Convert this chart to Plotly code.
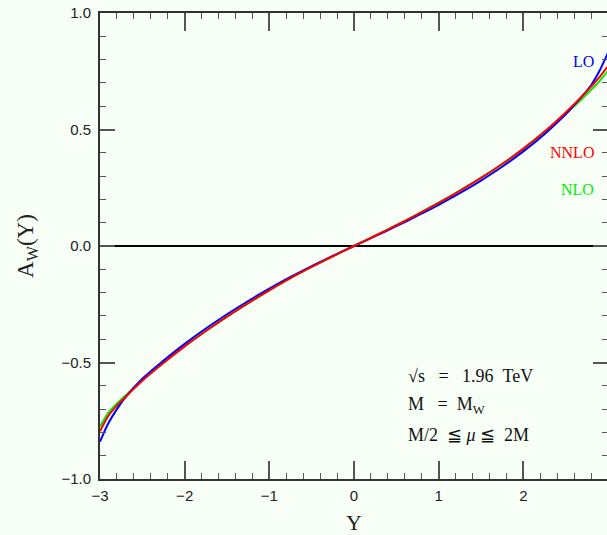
import plotly.graph_objects as go

# Rapidity grid
Y = [-3.0, -2.9, -2.8, -2.7, -2.5, -2.25, -2.0, -1.75, -1.5, -1.25, -1.0, -0.75, -0.5, -0.25, 0.0,
     0.25, 0.5, 0.75, 1.0, 1.25, 1.5, 1.75, 2.0, 2.25, 2.5, 2.7, 2.8, 2.9, 3.0]

A_LO = [-0.840, -0.760, -0.700, -0.650, -0.570, -0.492, -0.420, -0.354, -0.293, -0.236, -0.183, -0.133,
        -0.086, -0.042, 0.0, 0.042, 0.085, 0.130, 0.177, 0.227, 0.281, 0.340, 0.406, 0.480, 0.565,
        0.645, 0.690, 0.752, 0.830]

A_NLO = [-0.775, -0.715, -0.676, -0.642, -0.575, -0.500, -0.430, -0.365, -0.303, -0.245, -0.190, -0.138,
         -0.090, -0.044, 0.0, 0.044, 0.089, 0.137, 0.186, 0.238, 0.293, 0.352, 0.416, 0.487, 0.566,
         0.634, 0.670, 0.708, 0.752]

A_NNLO = [-0.795, -0.728, -0.685, -0.648, -0.578, -0.502, -0.431, -0.365, -0.303, -0.245, -0.190, -0.138,
          -0.090, -0.044, 0.0, 0.044, 0.089, 0.136, 0.185, 0.237, 0.292, 0.352, 0.418, 0.491, 0.573,
          0.645, 0.684, 0.725, 0.772]

x_ticks = [-3, -2, -1, 0, 1, 2]
y_ticks = [-1.0, -0.5, 0.0, 0.5, 1.0]
y_tick_text = ["\u22121.0", "\u22120.5", "0.0", "0.5", "1.0"]
x_tick_text = ["\u22123", "\u22122", "\u22121", "0", "1", "2"]

BG = "#F7FFF7"
SERIF = "Liberation Serif, Times New Roman, serif"
SANS = "Liberation Sans, Arial, sans-serif"
NB = "\u00a0"

fig = go.Figure()
fig.add_trace(go.Scatter(x=Y, y=A_NLO, mode="lines", line=dict(color="#00EE00", width=2, shape="spline", smoothing=0.8), name="NLO"))
fig.add_trace(go.Scatter(x=Y, y=A_LO, mode="lines", line=dict(color="#0000FF", width=2, shape="spline", smoothing=0.8), name="LO"))
fig.add_trace(go.Scatter(x=Y, y=A_NNLO, mode="lines", line=dict(color="#FF0000", width=2, shape="spline", smoothing=0.8), name="NNLO"))

fig.update_layout(
    width=610, height=535,
    margin=dict(l=100, r=0, t=13, b=54),
    paper_bgcolor=BG, plot_bgcolor=BG,
    showlegend=False,
    font=dict(family=SANS, size=15, color="#222"),
)

fig.update_xaxes(
    range=[-3.0, 3.0], showgrid=False, zeroline=False,
    showline=True, linecolor="#333", linewidth=2, mirror="ticks",
    ticks="inside", ticklen=18, tickwidth=1.5, tickcolor="#555",
    tickvals=x_ticks, ticktext=x_tick_text,
    minor=dict(dtick=0.2, ticks="inside", ticklen=6, tickwidth=1.2, tickcolor="#555", showgrid=False),
    ticklabelstandoff=2, ticklabeloverflow="allow",
    title=dict(text="Y", font=dict(family=SERIF, size=22, color="#222"), standoff=16),
)
fig.update_yaxes(
    range=[-1.0, 1.0], showgrid=False,
    zeroline=True, zerolinecolor="#000", zerolinewidth=1.5,
    showline=True, linecolor="#333", linewidth=2, mirror="ticks",
    ticks="inside", ticklen=15, tickwidth=1.5, tickcolor="#555",
    tickvals=y_ticks, ticktext=y_tick_text,
    minor=dict(dtick=0.1, ticks="inside", ticklen=6, tickwidth=1.2, tickcolor="#555", showgrid=False),
    ticklabelstandoff=4, ticklabeloverflow="allow",
    title=dict(text="A<sub>W</sub>(Y)", font=dict(family=SERIF, size=23, color="#222"), standoff=21),
)

ann_font = dict(family=SERIF, size=18, color="#111")
fig.add_annotation(x=0.62, y=-0.556, xref="x", yref="y",
                   text="\u221As" + NB * 3 + "=" + NB * 3 + "1.96" + NB * 2 + "TeV", showarrow=False,
                   xanchor="left", yanchor="middle", font=ann_font)
fig.add_annotation(x=0.62, y=-0.684, xref="x", yref="y",
                   text="M" + NB * 3 + "=" + NB * 2 + "M<sub>W</sub>", showarrow=False,
                   xanchor="left", yanchor="middle", font=ann_font)
fig.add_annotation(x=0.62, y=-0.812, xref="x", yref="y",
                   text="M/2" + NB * 2 + "\u2266" + NB + "<i>\u03bc</i>" + NB + "\u2266" + NB * 2 + "2M",
                   showarrow=False, xanchor="left", yanchor="middle", font=ann_font)

fig.add_annotation(x=2.86, y=0.79, xref="x", yref="y", text="LO", showarrow=False,
                   xanchor="right", yanchor="middle", font=dict(family=SERIF, size=16, color="#0000FF"))
fig.add_annotation(x=2.86, y=0.402, xref="x", yref="y", text="NNLO", showarrow=False,
                   xanchor="right", yanchor="middle", font=dict(family=SERIF, size=16, color="#FF0000"))
fig.add_annotation(x=2.86, y=0.244, xref="x", yref="y", text="NLO", showarrow=False,
                   xanchor="right", yanchor="middle", font=dict(family=SERIF, size=16, color="#00EE00"))

post = ("document.documentElement.style.overflow='hidden';"
        "document.body.style.overflow='hidden';"
        "document.body.style.margin='0';"
        "document.body.style.background='" + BG + "';")
fig.write_html("out.html", post_script=post, config={"displayModeBar": False})
